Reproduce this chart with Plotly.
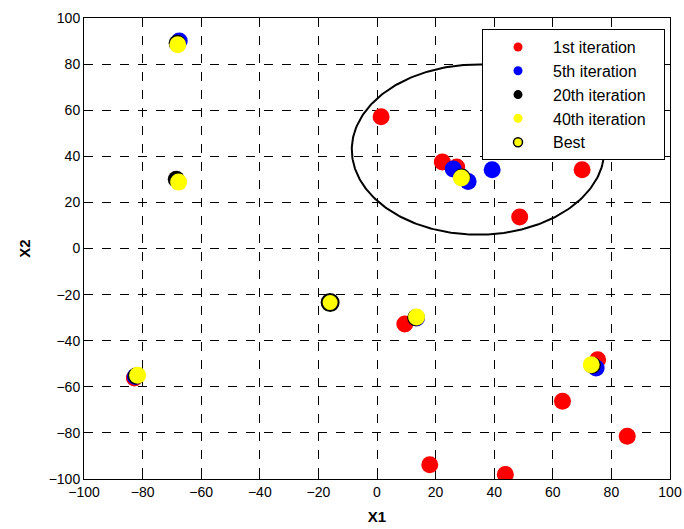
import numpy as np
import plotly.graph_objects as go

# 1st iteration
x_it1 = [1.4, 22.3, 27.2, 48.7, 70.0, 9.5, 18.0, 43.8, 63.3, 85.4, -82.8, 75.3]
y_it1 = [57.2, 37.5, 35.4, 13.7, 34.2, -32.8, -93.8, -98.0, -66.3, -81.5, -56.2, -48.3]
# 5th iteration
x_it5 = [-67.5, 26.0, 31.1, 39.3, 13.5, -82.5, 74.8]
y_it5 = [90.0, 34.5, 29.1, 34.2, -30.2, -55.5, -51.8]
# 20th iteration
x_it20 = [-68.2, -68.5, 29.0, 13.2, -82.2, 73.5, -16.0]
y_it20 = [89.0, 30.0, 31.0, -30.0, -55.3, -50.6, -23.4]
# 40th iteration
x_it40 = [-68.0, -67.7, 28.8, 13.5, -81.7, 73.1, -16.0]
y_it40 = [88.4, 28.8, 30.6, -29.7, -55.0, -50.4, -23.4]
# Best
x_best = [-16.0]
y_best = [-23.4]

# ellipse (center, semi-axes)
ell_cx, ell_cy = 34.5, 42.9
ell_a, ell_b = 43.1, 36.9

ticks = [-100, -80, -60, -40, -20, 0, 20, 40, 60, 80, 100]

FONT = "Liberation Sans, Arial, sans-serif"
fig = go.Figure()

t = np.linspace(0, 2 * np.pi, 300)
fig.add_trace(go.Scatter(x=ell_cx + ell_a * np.cos(t), y=ell_cy + ell_b * np.sin(t),
                         mode="lines", line=dict(color="black", width=2),
                         showlegend=False, hoverinfo="skip"))

series = [
    ("1st iteration", x_it1, y_it1, "#ff0000", None),
    ("5th iteration", x_it5, y_it5, "#0000ff", None),
    ("20th iteration", x_it20, y_it20, "#000000", None),
    ("40th iteration", x_it40, y_it40, "#ffff00", None),
    ("Best", x_best, y_best, "#ffff00", "black"),
]
for name, xs, ys, col, edge in series:
    fig.add_trace(go.Scatter(
        x=xs, y=ys, mode="markers", name=name, showlegend=False,
        marker=dict(size=17, color=col,
                    line=dict(color=edge if edge else col, width=2 if edge else 0))))
for name, xs, ys, col, edge in series:
    fig.add_trace(go.Scatter(
        x=[None], y=[None], mode="markers", name=name + "\u00a0\u00a0\u00a0",
        marker=dict(size=9, color=col,
                    line=dict(color=edge if edge else col, width=1.5 if edge else 0))))

axis_common = dict(
    range=[-100, 100], tickvals=ticks, ticks="inside", ticklen=5, tickcolor="black",
    showline=True, linecolor="black", linewidth=1, mirror="ticks",
    showgrid=True, gridcolor="black", griddash="dash", gridwidth=1,
    zeroline=False, tickfont=dict(family=FONT, size=14, color="black"),
    automargin=False,
)
fig.update_layout(
    width=684, height=529,
    margin=dict(l=84, r=14, t=18, b=50),
    paper_bgcolor="white", plot_bgcolor="white",
    xaxis=dict(title=dict(text="<b>X1</b>", font=dict(family=FONT, size=15, color="black"),
                          standoff=12), **axis_common),
    yaxis=dict(title=dict(text="<b>X2</b>", font=dict(family=FONT, size=15, color="black"),
                          standoff=14), **axis_common),
    legend=dict(x=0.9915, y=0.976, xanchor="right", yanchor="top",
                bgcolor="white", bordercolor="black", borderwidth=1,
                font=dict(family=FONT, size=16, color="black"),
                tracegroupgap=0, itemwidth=60),
    showlegend=True,
)

fig.write_html("out.html")
